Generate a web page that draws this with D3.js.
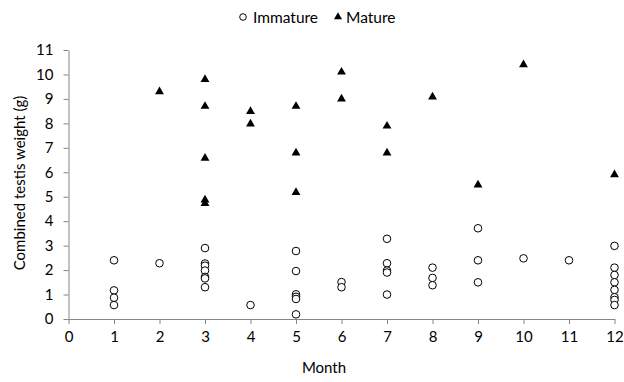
<!DOCTYPE html>
<html lang="en">
<head>
  <meta charset="UTF-8">
  <title>Testis weight by month</title>
  <script src="https://d3js.org/d3.v7.min.js"></script>
  <style>
    body { margin: 0; background: #fff; }
    text { font-family: Lato, "Open Sans", sans-serif; fill: #000; }
  </style>
</head>
<body>
  <div id="chart"></div>
  <script>
    // months on the x axis
    const months = d3.range(0, 13);
    const yTicks = d3.range(0, 12);

    // immature points [month, weight]
    const immature = [
      [1, 2.40], [1, 1.17], [1, 0.87], [1, 0.57],
      [2, 2.28],
      [3, 2.90], [3, 2.27], [3, 2.18], [3, 1.98], [3, 1.72], [3, 1.66], [3, 1.30],
      [4, 0.57],
      [5, 2.78], [5, 1.96], [5, 1.01], [5, 0.91], [5, 0.82], [5, 0.19],
      [6, 1.51], [6, 1.30],
      [7, 3.28], [7, 2.28], [7, 1.98], [7, 1.90], [7, 1.00],
      [8, 2.10], [8, 1.68], [8, 1.38],
      [9, 3.71], [9, 2.40], [9, 1.50],
      [10, 2.48],
      [11, 2.40],
      [12, 2.99], [12, 2.10], [12, 1.80], [12, 1.50], [12, 1.19], [12, 0.89], [12, 0.78], [12, 0.57]
    ];

    // mature points [month, weight]
    const mature = [
      [2, 9.30],
      [3, 9.80], [3, 8.70], [3, 6.58], [3, 4.87], [3, 4.73],
      [4, 8.49], [4, 7.98],
      [5, 8.70], [5, 6.79], [5, 5.18],
      [6, 10.10], [6, 9.00],
      [7, 7.89], [7, 6.79],
      [8, 9.08],
      [9, 5.48],
      [10, 10.40],
      [12, 5.90]
    ];

    const width = 624, height = 382;

    const svg = d3.select("#chart").append("svg")
      .attr("width", width)
      .attr("height", height);

    const x = d3.scaleLinear()
      .domain([0, 12])
      .range([68.5, 614.5]);

    const y = d3.scaleLinear()
      .domain([0, 11])
      .range([319, 50]);

    const axisColor = "#868686";

    // x axis
    const gx = svg.append("g")
      .attr("transform", `translate(0,${y(0)})`)
      .call(d3.axisBottom(x).tickValues(months).tickSize(5).tickPadding(7).tickSizeOuter(0));
    gx.select(".domain").attr("stroke", axisColor);
    gx.selectAll(".tick line").attr("stroke", axisColor);
    gx.selectAll("text").style("font-size", "15px");

    // y axis
    const gy = svg.append("g")
      .attr("transform", `translate(${x(0)},0)`)
      .call(d3.axisLeft(y).tickValues(yTicks).tickSize(5).tickPadding(10).tickSizeOuter(0));
    gy.select(".domain").attr("stroke", axisColor);
    gy.selectAll(".tick line").attr("stroke", axisColor);
    gy.selectAll("text").style("font-size", "15px");

    // axis titles
    svg.append("text")
      .attr("x", 324)
      .attr("y", 373)
      .attr("text-anchor", "middle")
      .style("font-size", "15px")
      .text("Month");

    svg.append("text")
      .attr("transform", "translate(25,183) rotate(-90)")
      .attr("text-anchor", "middle")
      .style("font-size", "15px")
      .text("Combined testis weight (g)");

    // points
    svg.append("g")
      .selectAll("circle")
      .data(immature)
      .join("circle")
        .attr("cx", d => x(d[0]))
        .attr("cy", d => y(d[1]))
        .attr("r", 3.8)
        .attr("fill", "#fff")
        .attr("stroke", "#000")
        .attr("stroke-width", 1);

    const tri = d3.symbol().type(d3.symbolTriangle).size(34);
    svg.append("g")
      .selectAll("path")
      .data(mature)
      .join("path")
        .attr("d", tri)
        .attr("transform", d => `translate(${x(d[0])},${y(d[1])})`)
        .attr("fill", "#000");

    // legend
    const legend = svg.append("g");
    legend.append("circle")
      .attr("cx", 243).attr("cy", 17).attr("r", 3.3)
      .attr("fill", "#fff").attr("stroke", "#000");
    legend.append("text")
      .attr("x", 253).attr("y", 23)
      .style("font-size", "15.5px")
      .text("Immature");
    legend.append("path")
      .attr("d", d3.symbol().type(d3.symbolTriangle).size(28))
      .attr("transform", "translate(338,17)")
      .attr("fill", "#000");
    legend.append("text")
      .attr("x", 346).attr("y", 23)
      .style("font-size", "15.5px")
      .text("Mature");
  </script>
</body>
</html>
